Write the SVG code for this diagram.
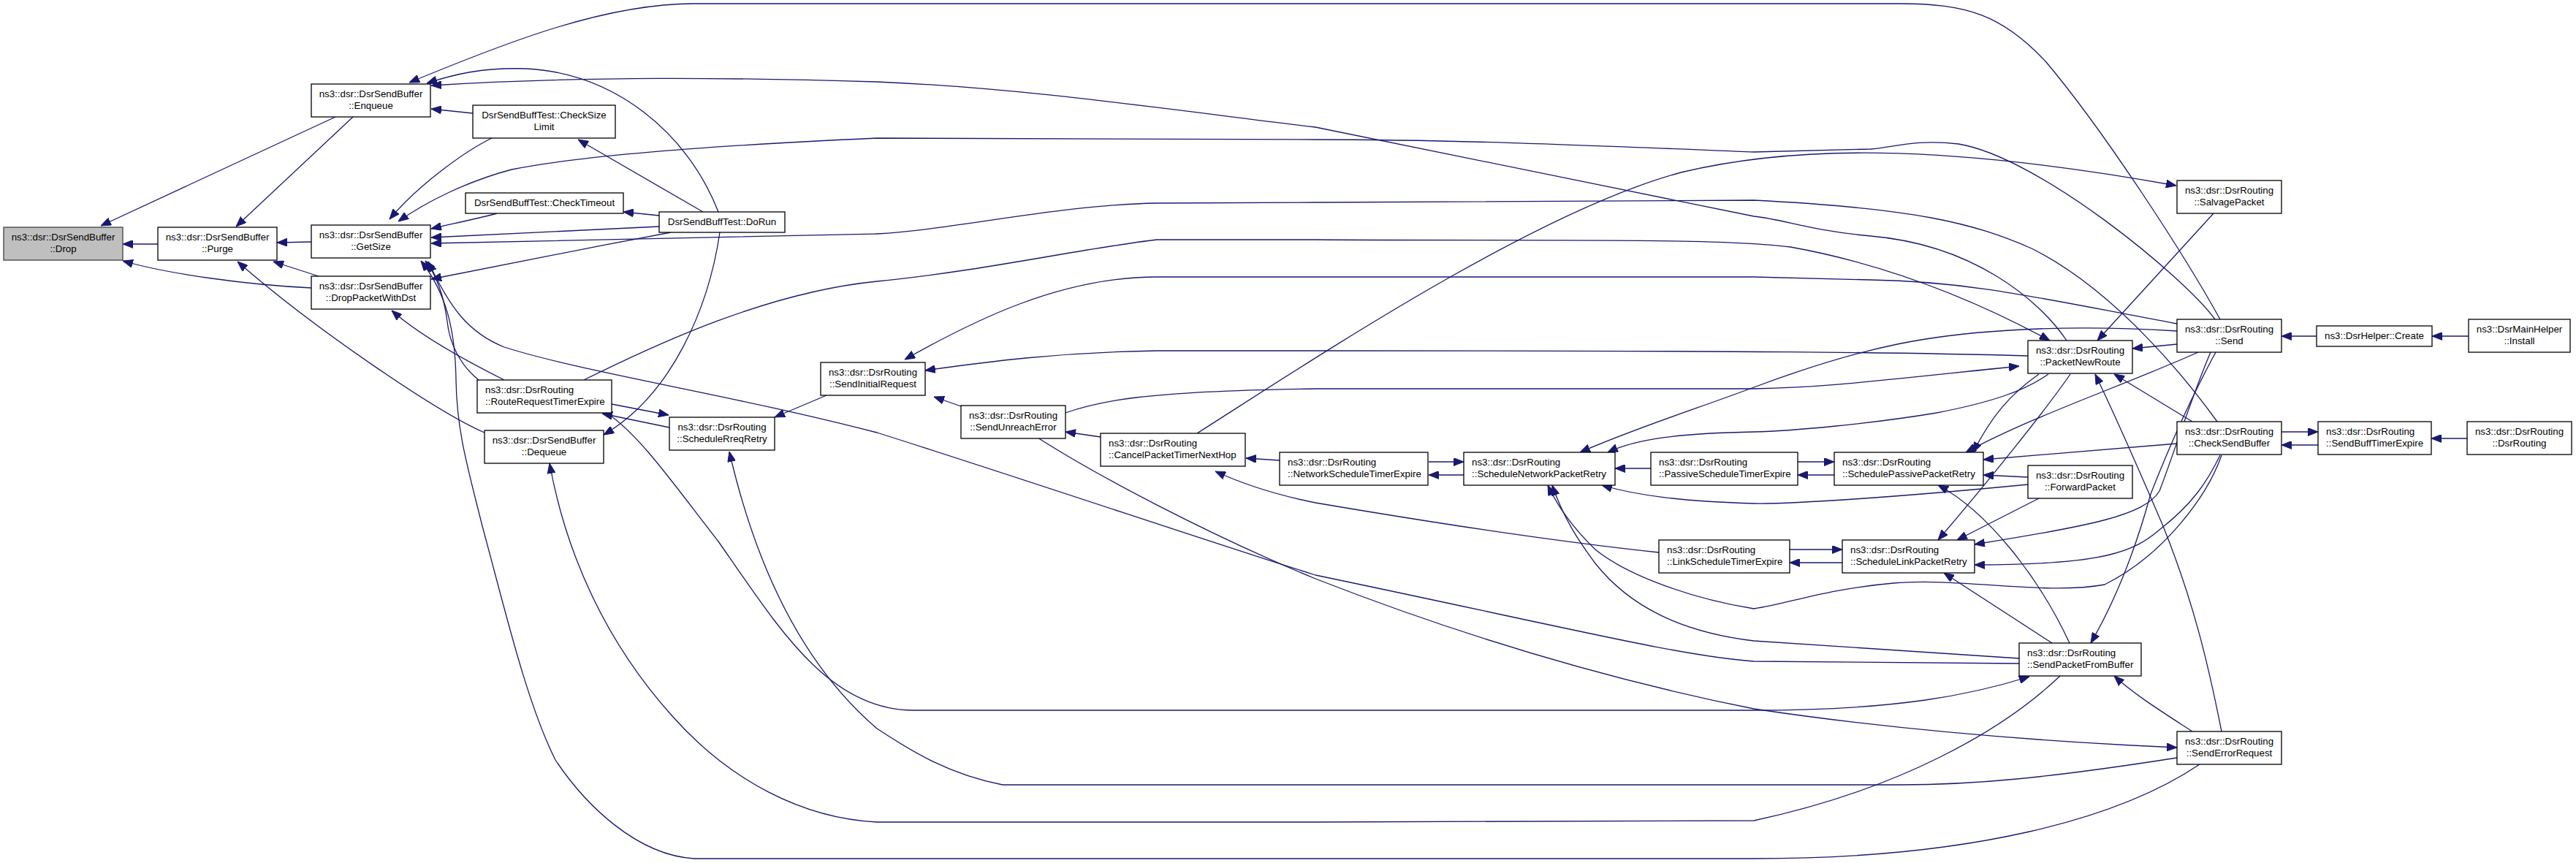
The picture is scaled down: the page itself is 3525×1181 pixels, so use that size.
<svg xmlns="http://www.w3.org/2000/svg" width="3525" height="1181" viewBox="0 0 3525 1181">
<style>
.n rect{fill:#fff;stroke:#000;stroke-width:1.3}
.root rect{fill:#bfbfbf;stroke:#404040;stroke-width:1.3}
text{font-family:"Liberation Sans",Arial,Helvetica,sans-serif;font-size:13.3px;fill:#000}
.c{text-anchor:middle}
.e path{fill:none;stroke:#191970;stroke-width:1.3;marker-end:url(#ah)}
</style>
<defs>
<marker id="ah" viewBox="0 0 14 11" refX="14" refY="5.5" markerWidth="14" markerHeight="11" markerUnits="userSpaceOnUse" orient="auto"><path d="M0,0 L14,5.5 L0,11 z" fill="#191970" stroke="#191970"/></marker>
</defs>
<rect width="3525" height="1181" fill="#fff"/>
<g id="edges" class="e">
<path d="M459,160 L138,309"/>
<path d="M216,334 L168,334"/>
<path d="M426,394 C340,390 230,375 168,357"/>
<path d="M483,160 L323,310"/>
<path d="M426,331 L379,332"/>
<path d="M436,378 L374,358"/>
<path d="M663,592 C600,565 430,450 325,358"/>
<path d="M3038,437 C2990,350 2880,180 2800,85 C2740,20 2690,5 2600,5 L950,5 C830,5 700,55 560,113"/>
<path d="M983,290 C940,180 840,100 720,94 C660,92 620,102 584,114"/>
<path d="M2828,466 C2790,410 2700,335 2560,323 C2480,316 2440,300 2400,296 L1800,174 C1600,150 1400,120 1200,112 C1000,106 800,104 590,117"/>
<path d="M647,155 L590,149"/>
<path d="M673,189 C640,205 575,250 533,300"/>
<path d="M3031,437 C2990,380 2790,215 2680,197 C2620,190 2590,202 2560,204 L2400,208 C2200,200 2000,191 1800,191 L1200,189 C1000,198 800,212 700,232 C640,248 585,275 545,303"/>
<path d="M1638,593 C1800,490 2100,290 2300,236 C2450,200 2650,195 2978,254"/>
<path d="M680,292 C650,300 620,306 590,313"/>
<path d="M902,310 L590,325"/>
<path d="M3034,577 C3000,530 2900,400 2780,340 C2700,305 2620,285 2400,274 L1800,277 L1583,278 C1450,280 1300,315 1200,320 C1000,326 800,330 590,333"/>
<path d="M918,318 C800,340 650,370 590,382"/>
<path d="M690,520 C630,490 570,455 536,425"/>
<path d="M655,520 C630,500 615,470 612,440 C608,410 600,380 582,357"/>
<path d="M3010,1046 C2900,1120 2700,1175 2400,1175 L950,1175 C870,1170 800,1100 760,1040 C720,960 690,830 660,720 C640,640 625,590 624,520 C623,450 610,400 576,357"/>
<path d="M2763,908 C2600,906 2450,906 2400,905 C2300,898 2150,860 1800,787 C1650,740 1400,655 1200,592 C1000,540 800,510 690,475 C640,455 615,420 586,358"/>
<path d="M962,290 L791,191"/>
<path d="M902,295 L853,290"/>
<path d="M985,318 C970,420 920,540 826,595"/>
<path d="M837,553 L915,568"/>
<path d="M916,585 L824,566"/>
<path d="M830,565 C875,595 920,660 983,741 C1060,850 1130,972 1250,972 L2400,972 C2600,972 2700,950 2777,926"/>
<path d="M2979,1037 C2800,1065 2700,1074 2600,1074 L1372,1074 C1300,1060 1250,1030 1200,997 C1110,920 1040,800 998,618"/>
<path d="M1131,541 L1060,571"/>
<path d="M1315,556 L1278,543"/>
<path d="M2979,443 C2800,410 2700,385 2560,383 L2400,379 L1583,379 C1450,379 1330,440 1238,492"/>
<path d="M2775,487 C2600,482 2400,480 1800,480 L1583,480 C1450,482 1350,495 1266,507"/>
<path d="M1506,598 L1458,591"/>
<path d="M1458,565 C1500,550 1560,535 1800,532 L2400,532 C2500,530 2560,522 2763,501"/>
<path d="M1420,599 C1500,650 1650,730 1800,792 C2000,870 2200,930 2400,970 C2600,1000 2800,1015 2979,1023"/>
<path d="M1751,630 L1705,627"/>
<path d="M2270,756 C2100,738 1900,705 1800,688 C1750,678 1700,662 1663,645"/>
<path d="M1955,632 L2003,632"/>
<path d="M2003,650 L1955,650"/>
<path d="M2979,453 C2900,448 2827,447 2750,452 C2650,458 2560,470 2400,530 C2320,560 2240,585 2162,619"/>
<path d="M2803,512 C2770,535 2727,550 2650,565 C2560,580 2450,590 2400,591 C2300,593 2240,600 2200,619"/>
<path d="M2259,641 L2210,641"/>
<path d="M2775,663 C2600,680 2450,690 2400,689 C2300,686 2240,678 2192,664"/>
<path d="M3040,623 C3020,680 2960,760 2880,800 C2800,815 2680,790 2591,798 C2500,806 2450,825 2400,833 C2320,820 2230,790 2183,752 C2150,720 2130,690 2118,664"/>
<path d="M2763,901 C2600,890 2450,880 2400,877 C2300,865 2230,830 2183,771 C2160,740 2140,710 2124,664"/>
<path d="M2460,632 L2510,632"/>
<path d="M2510,650 L2460,650"/>
<path d="M2449,752 L2521,752"/>
<path d="M2521,770 L2449,770"/>
<path d="M2979,607 L2714,629"/>
<path d="M2775,653 L2714,650"/>
<path d="M2790,682 L2678,739"/>
<path d="M2832,880 C2790,790 2720,700 2652,664"/>
<path d="M2808,880 L2660,784"/>
<path d="M2790,512 C2750,540 2725,570 2700,619"/>
<path d="M3008,482 C2900,530 2780,570 2690,619"/>
<path d="M2833,512 C2800,560 2720,660 2652,739"/>
<path d="M3025,482 C3000,540 2975,620 2955,672 C2935,705 2860,720 2702,745"/>
<path d="M3038,623 C3020,660 3000,690 2955,725 C2920,755 2880,773 2702,773"/>
<path d="M3032,482 C2995,550 2965,620 2943,676 C2920,760 2890,830 2861,880"/>
<path d="M3000,1001 C2960,975 2920,950 2893,925"/>
<path d="M2819,925 C2740,1000 2600,1080 2400,1123 C2300,1125 2200,1125 1800,1125 L1200,1125 C1100,1120 1000,1070 920,980 C830,880 775,760 752,634"/>
<path d="M799,520 C900,470 1050,400 1200,385 C1350,370 1480,340 1583,328 L1800,328 C2100,330 2350,325 2450,338 C2600,365 2720,420 2805,466"/>
<path d="M3029,292 L2870,466"/>
<path d="M2979,471 L2918,477"/>
<path d="M3000,577 L2893,512"/>
<path d="M3040,1001 C3020,900 3000,820 2960,720 C2930,650 2900,580 2867,512"/>
<path d="M3170,460 L3122,460"/>
<path d="M3378,460 L3328,460"/>
<path d="M3122,591 L3172,591"/>
<path d="M3172,609 L3122,609"/>
<path d="M3376,600 L3327,600"/>
</g>
<g id="n_drop" class="root"><rect x="5" y="311" width="163" height="45"/><text class="c" x="86.5" y="328.5">ns3::dsr::DsrSendBuffer</text><text class="c" x="86.5" y="344.5">::Drop</text></g>
<g id="n_purge" class="n"><rect x="216" y="311" width="163" height="45"/><text class="c" x="297.5" y="328.5">ns3::dsr::DsrSendBuffer</text><text class="c" x="297.5" y="344.5">::Purge</text></g>
<g id="n_enqueue" class="n"><rect x="426" y="115" width="163" height="45"/><text class="c" x="507.5" y="132.5">ns3::dsr::DsrSendBuffer</text><text class="c" x="507.5" y="148.5">::Enqueue</text></g>
<g id="n_getsize" class="n"><rect x="426" y="308" width="163" height="45"/><text class="c" x="507.5" y="325.5">ns3::dsr::DsrSendBuffer</text><text class="c" x="507.5" y="341.5">::GetSize</text></g>
<g id="n_dropdst" class="n"><rect x="426" y="378" width="163" height="45"/><text class="c" x="507.5" y="395.5">ns3::dsr::DsrSendBuffer</text><text class="c" x="507.5" y="411.5">::DropPacketWithDst</text></g>
<g id="n_checksize" class="n"><rect x="647" y="144" width="195" height="45"/><text class="c" x="744.5" y="161.5">DsrSendBuffTest::CheckSize</text><text class="c" x="744.5" y="177.5">Limit</text></g>
<g id="n_checktimeout" class="n"><rect x="637" y="264" width="216" height="28"/><text class="c" x="745" y="282">DsrSendBuffTest::CheckTimeout</text></g>
<g id="n_dorun" class="n"><rect x="902" y="290" width="172" height="28"/><text class="c" x="988" y="308">DsrSendBuffTest::DoRun</text></g>
<g id="n_rrte" class="n"><rect x="653" y="520" width="184" height="45"/><text x="664" y="537.5">ns3::dsr::DsrRouting</text><text x="664" y="553.5">::RouteRequestTimerExpire</text></g>
<g id="n_dequeue" class="n"><rect x="663" y="589" width="163" height="45"/><text class="c" x="744.5" y="606.5">ns3::dsr::DsrSendBuffer</text><text class="c" x="744.5" y="622.5">::Dequeue</text></g>
<g id="n_srr" class="n"><rect x="916" y="571" width="144" height="45"/><text class="c" x="988" y="588.5">ns3::dsr::DsrRouting</text><text class="c" x="988" y="604.5">::ScheduleRreqRetry</text></g>
<g id="n_sir" class="n"><rect x="1123" y="496" width="143" height="45"/><text class="c" x="1194.5" y="513.5">ns3::dsr::DsrRouting</text><text class="c" x="1194.5" y="529.5">::SendInitialRequest</text></g>
<g id="n_sue" class="n"><rect x="1315" y="555" width="143" height="45"/><text class="c" x="1386.5" y="572.5">ns3::dsr::DsrRouting</text><text class="c" x="1386.5" y="588.5">::SendUnreachError</text></g>
<g id="n_cancel" class="n"><rect x="1506" y="593" width="198" height="45"/><text x="1517" y="610.5">ns3::dsr::DsrRouting</text><text x="1517" y="626.5">::CancelPacketTimerNextHop</text></g>
<g id="n_nste" class="n"><rect x="1751" y="619" width="203" height="45"/><text x="1762" y="636.5">ns3::dsr::DsrRouting</text><text x="1762" y="652.5">::NetworkScheduleTimerExpire</text></g>
<g id="n_snpr" class="n"><rect x="2003" y="619" width="207" height="45"/><text x="2014" y="636.5">ns3::dsr::DsrRouting</text><text x="2014" y="652.5">::ScheduleNetworkPacketRetry</text></g>
<g id="n_pste" class="n"><rect x="2259" y="619" width="201" height="45"/><text x="2270" y="636.5">ns3::dsr::DsrRouting</text><text x="2270" y="652.5">::PassiveScheduleTimerExpire</text></g>
<g id="n_lste" class="n"><rect x="2270" y="739" width="179" height="45"/><text x="2281" y="756.5">ns3::dsr::DsrRouting</text><text x="2281" y="772.5">::LinkScheduleTimerExpire</text></g>
<g id="n_sppr" class="n"><rect x="2510" y="619" width="204" height="45"/><text x="2521" y="636.5">ns3::dsr::DsrRouting</text><text x="2521" y="652.5">::SchedulePassivePacketRetry</text></g>
<g id="n_slpr" class="n"><rect x="2521" y="739" width="181" height="45"/><text x="2532" y="756.5">ns3::dsr::DsrRouting</text><text x="2532" y="772.5">::ScheduleLinkPacketRetry</text></g>
<g id="n_forward" class="n"><rect x="2775" y="637" width="143" height="45"/><text class="c" x="2846.5" y="654.5">ns3::dsr::DsrRouting</text><text class="c" x="2846.5" y="670.5">::ForwardPacket</text></g>
<g id="n_pnr" class="n"><rect x="2775" y="466" width="143" height="45"/><text class="c" x="2846.5" y="483.5">ns3::dsr::DsrRouting</text><text class="c" x="2846.5" y="499.5">::PacketNewRoute</text></g>
<g id="n_spfb" class="n"><rect x="2763" y="880" width="167" height="45"/><text x="2774" y="897.5">ns3::dsr::DsrRouting</text><text x="2774" y="913.5">::SendPacketFromBuffer</text></g>
<g id="n_salvage" class="n"><rect x="2979" y="247" width="143" height="45"/><text class="c" x="3050.5" y="264.5">ns3::dsr::DsrRouting</text><text class="c" x="3050.5" y="280.5">::SalvagePacket</text></g>
<g id="n_send" class="n"><rect x="2979" y="437" width="143" height="45"/><text class="c" x="3050.5" y="454.5">ns3::dsr::DsrRouting</text><text class="c" x="3050.5" y="470.5">::Send</text></g>
<g id="n_csb" class="n"><rect x="2979" y="577" width="143" height="45"/><text class="c" x="3050.5" y="594.5">ns3::dsr::DsrRouting</text><text class="c" x="3050.5" y="610.5">::CheckSendBuffer</text></g>
<g id="n_ser" class="n"><rect x="2979" y="1001" width="143" height="45"/><text class="c" x="3050.5" y="1018.5">ns3::dsr::DsrRouting</text><text class="c" x="3050.5" y="1034.5">::SendErrorRequest</text></g>
<g id="n_create" class="n"><rect x="3170" y="446" width="158" height="28"/><text class="c" x="3249" y="464">ns3::DsrHelper::Create</text></g>
<g id="n_install" class="n"><rect x="3378" y="437" width="139" height="45"/><text class="c" x="3447.5" y="454.5">ns3::DsrMainHelper</text><text class="c" x="3447.5" y="470.5">::Install</text></g>
<g id="n_sbte" class="n"><rect x="3172" y="577" width="155" height="45"/><text x="3183" y="594.5">ns3::dsr::DsrRouting</text><text x="3183" y="610.5">::SendBuffTimerExpire</text></g>
<g id="n_dsrrouting" class="n"><rect x="3376" y="577" width="143" height="45"/><text class="c" x="3447.5" y="594.5">ns3::dsr::DsrRouting</text><text class="c" x="3447.5" y="610.5">::DsrRouting</text></g>
</svg>
